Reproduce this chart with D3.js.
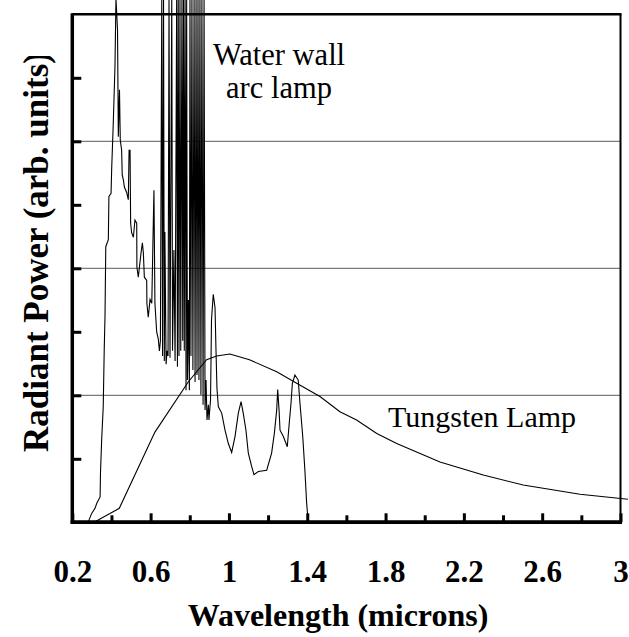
<!DOCTYPE html>
<html>
<head>
<meta charset="utf-8">
<script src="https://cdn.jsdelivr.net/npm/d3@7"></script>
<style>
    body { margin: 0; background: #fff; }
    svg { display: block; }
    text { font-family: "Liberation Serif", "Times New Roman", serif; fill: #000; }
</style>
</head>
<body>
<div id="chart"></div>
<script>
// tungsten lamp (smooth curve)
let tungstenWl = [0.316, 0.44, 0.622, 0.792, 0.886, 0.937, 1.005, 1.105, 1.244, 1.346, 1.465, 1.567, 1.652, 1.755, 1.857, 2.078, 2.299, 2.503, 2.793, 3.038];
let tungstenPw = [0.01, 0.22, 1.42, 2.21, 2.56, 2.62, 2.65, 2.56, 2.37, 2.19, 1.98, 1.74, 1.61, 1.40, 1.24, 0.95, 0.745, 0.587, 0.441, 0.362];

// water wall arc lamp (lines with many spikes)
let arcWl = [0.282, 0.299, 0.316, 0.325, 0.342, 0.344, 0.350, 0.358, 0.363, 0.367, 0.371, 0.384, 0.387, 0.398, 0.401, 0.409, 0.418, 0.423,
    0.431, 0.435, 0.441, 0.445, 0.452, 0.455, 0.461, 0.466, 0.478, 0.486, 0.490, 0.495, 0.497, 0.498, 0.503, 0.512, 0.520, 0.529, 0.530,
    0.537, 0.551, 0.558, 0.563, 0.568, 0.580, 0.581, 0.588, 0.597, 0.606, 0.614, 0.617, 0.622, 0.631, 0.639,
    0.645, 0.650, 0.657, 0.661, 0.666, 0.670, 0.673, 0.679, 0.684, 0.689, 0.694, 0.699, 0.708, 0.712, 0.719, 0.725, 0.733, 0.737,
    0.741, 0.745, 0.750, 0.754, 0.760, 0.764, 0.768, 0.772, 0.776, 0.781, 0.784, 0.788, 0.793, 0.798, 0.801, 0.806, 0.811, 0.816,
    0.822, 0.827, 0.832, 0.837, 0.842, 0.847, 0.852, 0.857, 0.862, 0.868, 0.873, 0.878, 0.883, 0.888, 0.895, 0.898, 0.906, 0.911,
    0.920, 0.929, 0.934, 0.939, 0.946, 0.963, 0.980, 0.997, 1.014, 1.031, 1.048, 1.062, 1.073, 1.087, 1.099, 1.116, 1.128, 1.150,
    1.193, 1.218, 1.232, 1.244, 1.249, 1.256, 1.261, 1.278, 1.298, 1.308, 1.317, 1.324, 1.337, 1.354, 1.363, 1.377, 1.388, 1.397, 1.405];
let arcPw = [0.01, 0.14, 0.22, 0.30, 0.40, 0.78, 1.30, 1.82, 2.71, 3.24, 4.34, 4.45, 5.13, 5.18, 5.55, 6.26, 7.18, 8.25,
    7.75, 6.07, 6.81, 6.02, 5.86, 5.47, 5.39, 5.28, 5.19, 5.08, 5.86, 5.86, 5.08, 4.71, 4.56, 4.49, 4.76, 4.71, 4.02,
    3.86, 4.24, 4.40, 4.24, 3.86, 3.81, 3.45, 3.23, 3.51, 3.45, 4.76, 5.23, 3.45, 3.00, 2.89,
    2.70, 2.86, 8.25, 2.62, 8.25, 2.54, 4.57, 2.49, 2.70, 2.62, 8.25, 2.59, 8.25, 2.70, 4.29, 2.54, 8.25, 2.45,
    8.25, 2.62, 8.25, 2.70, 8.25, 2.86, 8.25, 2.70, 8.25, 2.08, 8.25, 2.24, 3.50, 2.08, 8.25, 2.62, 8.25, 2.40,
    8.25, 2.21, 8.25, 2.32, 8.25, 2.24, 8.25, 2.01, 8.25, 1.85, 8.25, 1.77, 2.24, 1.61, 1.85, 1.61, 1.93, 3.19,
    3.59, 3.38, 2.70, 2.10, 1.82, 1.72, 1.45, 1.24, 1.10, 1.35, 1.72, 1.90, 1.72, 1.45, 1.09, 0.88, 0.75, 0.80,
    0.82, 1.09, 1.40, 1.77, 2.09, 1.77, 1.45, 1.35, 1.19, 1.56, 1.87, 2.19, 2.32, 2.24, 1.87, 1.35, 0.82, 0.30, 0.01];

let xLabelTicks = [0.2, 0.6, 1, 1.4, 1.8, 2.2, 2.6, 3];
let xMinorTicks = [0.4, 0.8, 1.2, 1.6, 2.0, 2.4, 2.8];
let yTicks = [1, 2, 3, 4, 5, 6, 7];
let gridValues = [2, 4, 6];

let width = 629, height = 637;
let plotLeft = 72.3, plotRight = 620.5, plotTop = 14.3, plotBottom = 522.3;

let svg = d3.select("#chart").append("svg")
    .attr("width", width)
    .attr("height", height);

let x = d3.scaleLinear().domain([0.2, 3]).range([plotLeft, plotRight]);
let y = d3.scaleLinear().domain([0, 8]).range([plotBottom, plotTop]);

// grid lines
svg.append("g").selectAll("line")
    .data(gridValues)
    .enter()
    .append("line")
    .attr("x1", plotLeft).attr("x2", plotRight)
    .attr("y1", d => y(d)).attr("y2", d => y(d))
    .attr("stroke", "#5a5a5a")
    .attr("stroke-width", 1);

// curves
let line = d3.line().x(d => x(d[0])).y(d => y(d[1]));
let tungsten = tungstenWl.map((d, i) => [d, tungstenPw[i]]);
let arc = arcWl.map((d, i) => [d, arcPw[i]]);

svg.append("path")
    .datum(tungsten)
    .attr("d", line)
    .attr("fill", "none")
    .attr("stroke", "#000")
    .attr("stroke-width", 1.1);

svg.append("path")
    .datum(arc)
    .attr("d", line)
    .attr("fill", "none")
    .attr("stroke", "#000")
    .attr("stroke-width", 1.1);

// frame top / right
svg.append("line").attr("x1", plotLeft).attr("x2", plotRight + 1).attr("y1", plotTop).attr("y2", plotTop)
    .attr("stroke", "#000").attr("stroke-width", 2.5);
svg.append("line").attr("x1", plotRight).attr("x2", plotRight).attr("y1", plotTop).attr("y2", plotBottom)
    .attr("stroke", "#000").attr("stroke-width", 2);

// x axis: minor ticks
let xMinor = svg.append("g")
    .attr("transform", "translate(0," + plotBottom + ")")
    .call(d3.axisBottom(x).tickValues(xMinorTicks).tickSize(-7).tickFormat(""));
// x axis: labelled ticks
let xAxis = svg.append("g")
    .attr("transform", "translate(0," + plotBottom + ")")
    .call(d3.axisBottom(x).tickValues(xLabelTicks).tickSize(-9).tickFormat(d3.format("")));

[xMinor, xAxis].forEach(g => {
    g.select(".domain").attr("stroke", "#000").attr("stroke-width", 3.5)
        .attr("d", "M" + (plotLeft - 1.5) + ",0H" + (plotRight + 1.5));
    g.selectAll(".tick line").attr("stroke", "#000").attr("stroke-width", 3);
});
xAxis.selectAll(".tick text")
    .attr("y", 60)
    .attr("dy", null)
    .attr("font-size", 31)
    .attr("font-weight", "bold")
    .style("font-family", '"Liberation Serif", "Times New Roman", serif');

// y axis
let yAxis = svg.append("g")
    .attr("transform", "translate(" + plotLeft + ",0)")
    .call(d3.axisLeft(y).tickValues(yTicks).tickSize(-9).tickFormat(""));
yAxis.select(".domain").attr("stroke", "#000").attr("stroke-width", 3.5)
    .attr("d", "M0," + (plotTop - 1) + "V" + (plotBottom + 1.5));
yAxis.selectAll(".tick line").attr("stroke", "#000").attr("stroke-width", 3);

// axis titles
svg.append("text")
    .attr("x", 338)
    .attr("y", 626)
    .attr("text-anchor", "middle")
    .attr("font-size", 32)
    .attr("font-weight", "bold")
    .text("Wavelength (microns)");

// the closing bracket of the y title is cut off in the original
svg.append("clipPath").attr("id", "ytitle-clip")
    .append("rect").attr("x", 0).attr("y", 56).attr("width", 70).attr("height", 580);

svg.append("g").attr("clip-path", "url(#ytitle-clip)")
    .append("text")
    .attr("transform", "translate(48,452) rotate(-90)")
    .attr("text-anchor", "start")
    .attr("font-size", 35)
    .attr("font-weight", "bold")
    .text("Radiant Power (arb. units)");

// labels
let arcLabel = svg.append("text")
    .attr("text-anchor", "middle")
    .attr("font-size", 30.5);
arcLabel.append("tspan").attr("x", 279).attr("y", 65).text("Water wall");
arcLabel.append("tspan").attr("x", 279).attr("y", 98).text("arc lamp");

svg.append("text")
    .attr("x", 388)
    .attr("y", 427)
    .attr("font-size", 30)
    .text("Tungsten Lamp");
</script>
</body>
</html>
